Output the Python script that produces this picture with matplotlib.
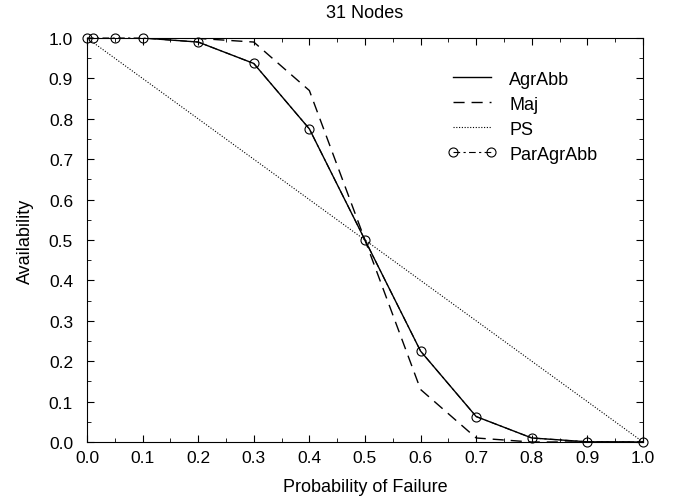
import matplotlib
matplotlib.use("Agg")
import matplotlib.pyplot as plt
from matplotlib.ticker import MultipleLocator, FormatStrFormatter

plt.rcParams['font.family'] = ['Liberation Sans', 'DejaVu Sans']

p = [0.0, 0.01, 0.05, 0.1, 0.2, 0.3, 0.4, 0.5, 0.6, 0.7, 0.8, 0.9, 1.0]
agrabb = [1.0, 1.0, 1.0, 1.0, 0.99, 0.937, 0.775, 0.5, 0.225, 0.063, 0.01, 0.0005, 0.0]
maj = [1.0, 1.0, 1.0, 1.0, 0.999, 0.99, 0.87, 0.5, 0.13, 0.01, 0.0, 0.0, 0.0]
ps_x = [0.0, 1.0]
ps = [1.0, 0.0]
paragrabb = [1.0, 1.0, 1.0, 1.0, 0.99, 0.937, 0.775, 0.5, 0.225, 0.063, 0.01, 0.0005, 0.0]

fig = plt.figure(figsize=(6.74, 5.02), dpi=100)
ax = fig.add_axes([0.129, 0.1175, 0.825, 0.8048])

ax.plot(p, agrabb, color='black', lw=1.0, label='AgrAbb')
ax.plot(p, maj, color='black', lw=1.0, dashes=(8, 5), label='Maj')
ax.plot(ps_x, ps, color='black', lw=0.8, linestyle=(0, (1, 1.5)), label='PS')
ax.plot(p, paragrabb, color='black', lw=0.8, dashes=(6, 3, 2, 3), marker='o', markersize=6.5,
        markerfacecolor='none', markeredgewidth=0.8, label='ParAgrAbb', clip_on=False)

ax.set_xlim(0, 1)
ax.set_ylim(0, 1)
ax.xaxis.set_major_locator(MultipleLocator(0.1))
ax.yaxis.set_major_locator(MultipleLocator(0.1))
ax.xaxis.set_minor_locator(MultipleLocator(0.05))
ax.yaxis.set_minor_locator(MultipleLocator(0.05))
ax.tick_params(which='both', direction='in', top=True, right=True, labelsize=12.5)
ax.tick_params(which='major', length=5)
ax.tick_params(which='minor', length=3)
ax.tick_params(axis='x', which='major', pad=6)
ax.tick_params(axis='y', which='major', pad=10)
ax.xaxis.set_major_formatter(FormatStrFormatter('%.1f'))
ax.yaxis.set_major_formatter(FormatStrFormatter('%.1f'))

ax.set_title('31 Nodes', fontsize=13, pad=15)
ax.set_xlabel('Probability of Failure', fontsize=13, labelpad=9)
ax.set_ylabel('Availability', fontsize=13, labelpad=11)
ax.legend(loc='upper left', bbox_to_anchor=(0.649, 0.919), frameon=False, fontsize=13,
          handlelength=2.7, handletextpad=0.7, labelspacing=0.44,
          borderpad=0, borderaxespad=0, numpoints=2)

fig.savefig('out.png', dpi=100)
